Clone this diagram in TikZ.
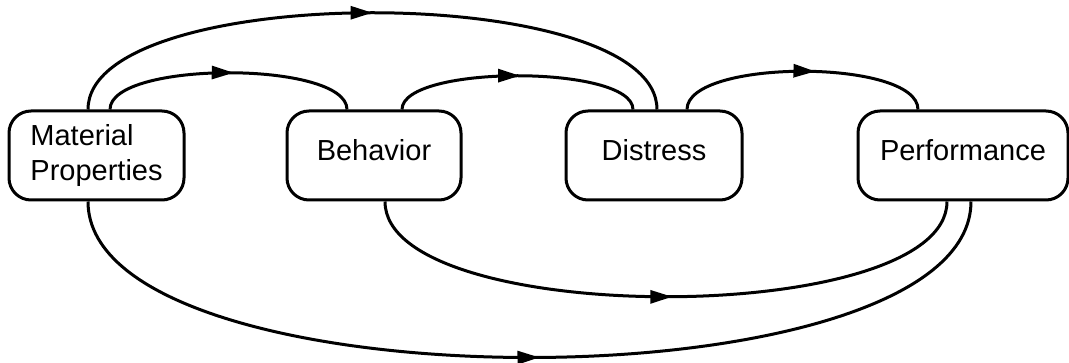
\documentclass[tikz,border=0pt]{standalone}
\usepackage{fontspec}
\setmainfont{Liberation Sans}
\usetikzlibrary{arrows.meta}
\usetikzlibrary{decorations.markings}
\tikzset{
	blockbox/.style = {draw, line width = 3pt, rounded corners = 22pt, minimum height = 89pt, inner sep = 0pt, font = \fontsize{29}{35}\selectfont},
	oneline/.style = {text height = 21pt, text depth = 11pt},
	flow/.style = {line width = 3pt},
	midarrow/.style = {postaction = {decorate}, decoration = {markings, mark = at position #1 with {\arrow{Triangle[length = 22pt, width = 13pt]}}}}
}

\begin{document}
\begin{tikzpicture}[x = 1pt, y = -1pt]
\useasboundingbox (0,0) rectangle (1069,363);

\node[blockbox, minimum width = 175pt, align = left] (mat) at (96.5,155.5) {Material\\Properties};
\node[blockbox, oneline, minimum width = 174pt] (beh) at (374,155.5) {Behavior};
\node[blockbox, oneline, minimum width = 176pt] (dis) at (654,155.5) {Distress};
\node[blockbox, oneline, minimum width = 210pt] (perf) at (963,155.5) {Performance};

% links over the boxes
\foreach \a/\sa/\b/\sb/\h/\p in {mat/13.5/beh/-27/49/0.52, beh/28/dis/-21/45/0.51, dis/33/perf/-45/51/0.55, mat/-8.5/dis/3/129/0.5}
	\draw[flow, midarrow = \p] ([xshift = \sa pt]\a.north) .. controls +(0,-\h) and +(0,-\h) .. ([xshift = \sb pt]\b.north);

% links under the boxes
\foreach \a/\sa/\b/\sb/\h/\p in {beh/11/perf/-16/127/0.51, mat/-8.5/perf/8/208/0.51}
	\draw[flow, midarrow = \p] ([xshift = \sa pt]\a.south) .. controls +(0,\h) and +(0,\h) .. ([xshift = \sb pt]\b.south);

\end{tikzpicture}
\end{document}
